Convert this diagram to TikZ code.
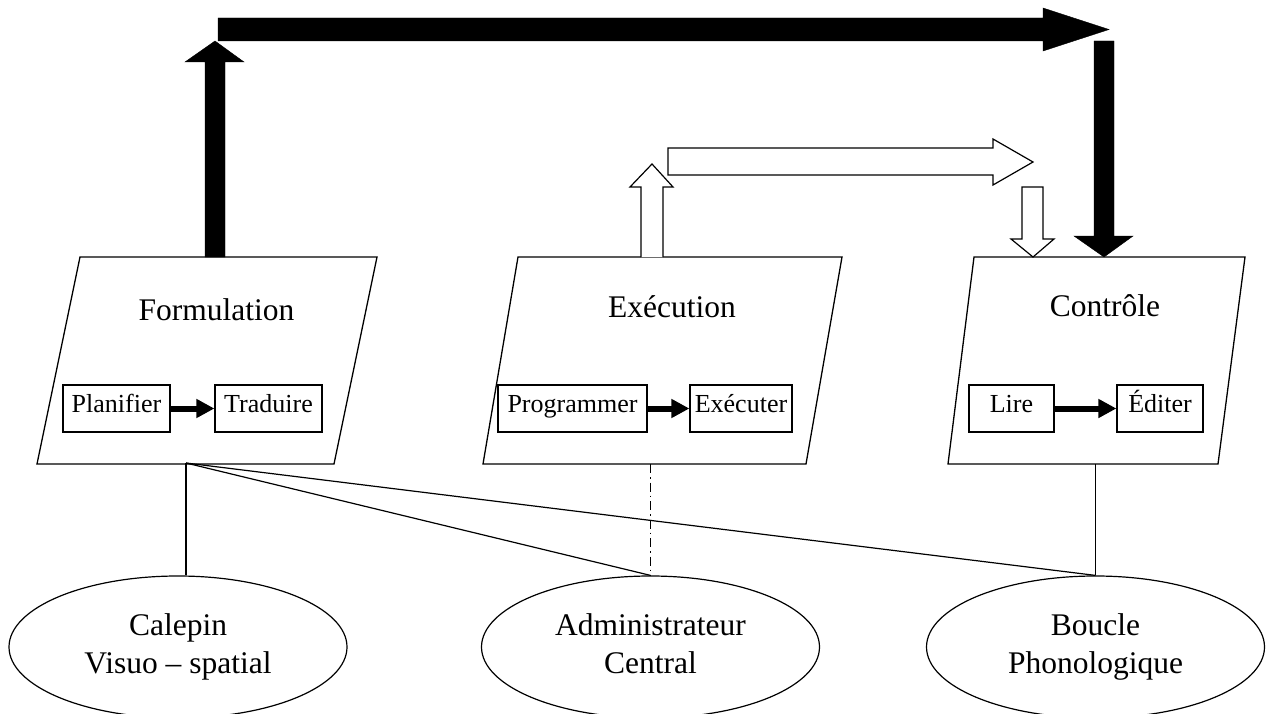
\documentclass[tikz,border=0pt]{standalone}
\usepackage{fontspec}
\setmainfont{Liberation Serif}
\usetikzlibrary{arrows.meta,shapes.geometric,calc}
\begin{document}
\begin{tikzpicture}[x=1pt,y=-1pt,
  outline/.style={draw=black,line width=1.3pt,line join=miter},
  blk/.style={fill=black,draw=black,line width=0.4pt,line join=miter},
  opn/.style={fill=white,draw=black,line width=1.2pt,line join=miter},
  proc/.style={draw=black,line width=1.2pt,rectangle,minimum height=47pt,inner sep=0pt,
    font=\fontsize{26}{30}\selectfont,text height=18pt,text depth=11pt},
  ttl/.style={font=\fontsize{31.5}{38}\selectfont,anchor=base,inner sep=0pt},
  mem/.style={ellipse,draw=black,line width=1.2pt,minimum width=338pt,minimum height=142pt,
    inner sep=0pt,font=\fontsize{31.5}{38}\selectfont},
  link/.style={draw=black,line width=1.2pt},
  sarrow/.style={line width=6pt,-{Triangle[length=18pt,width=18pt]}}
]
\useasboundingbox (0,0) rectangle (1266,714);
\fill[white] (0,0) rectangle (1266,714);

% parallelograms
\draw[outline] (80,257) -- (377,257) -- (334,464) -- (37,464) -- cycle;
\draw[outline] (518,257) -- (842,257) -- (806,464) -- (483,464) -- cycle;
\draw[outline] (974,257) -- (1245,257) -- (1218,464) -- (948,464) -- cycle;

\coordinate (fb) at (186,463);
\coordinate (eb) at (652,464);
\coordinate (cb) at (1096,464);

% titles
\node[ttl] (formT) at (216.5,320) {Formulation};
\node[ttl] (execT) at (672,317) {Exécution};
\node[ttl] (ctrlT) at (1105,316) {Contrôle};

% process boxes
\node[proc,minimum width=107pt] (plan) at (116.5,408.5) {Planifier};
\node[proc,minimum width=107pt] (trad) at (268.5,408.5) {Traduire};
\node[proc,minimum width=149pt] (prog) at (572.5,408.5) {Programmer};
\node[proc,minimum width=102pt] (exe)  at (741,408.5) {Exécuter};
\node[proc,minimum width=85pt]  (lire) at (1011.5,408.5) {Lire};
\node[proc,minimum width=86pt]  (edit) at (1160,408.5) {Éditer};

\draw[sarrow] (plan.east) -- (trad.west);
\draw[sarrow] (prog.east) -- (exe.west);
\draw[sarrow] (lire.east) -- (edit.west);

% black block arrows
\filldraw[blk] (205,257) -- (205,62) -- (185,62) -- (215,41) -- (244,62) -- (225,62) -- (225,257) -- cycle;
\filldraw[blk] (218,18) -- (1043,18) -- (1043,8) -- (1109,29.5) -- (1043,51) -- (1043,41) -- (218,41) -- cycle;
\filldraw[blk] (1094,41) -- (1094,236) -- (1074,236) -- (1104,257) -- (1133,236) -- (1114,236) -- (1114,41) -- cycle;

% open block arrows
\draw[opn] (641,257) -- (641,187) -- (630,187) -- (652,164) -- (673,187) -- (663,187) -- (663,257);
\draw[opn] (668,148) -- (993,148) -- (993,139) -- (1033,162) -- (993,185) -- (993,175) -- (668,175) -- cycle;
\draw[opn] (1022,187) -- (1043,187) -- (1043,239) -- (1054,239) -- (1033,257) -- (1011,239) -- (1022,239) -- cycle;

% memory components
\node[mem] (cal) at (178,647) {\begin{tabular}{@{}c@{}}Calepin\\Visuo – spatial\end{tabular}};
\node[mem] (adm) at (650.5,647) {\begin{tabular}{@{}c@{}}Administrateur\\Central\end{tabular}};
\node[mem] (bou) at (1095.5,647) {\begin{tabular}{@{}c@{}}Boucle\\Phonologique\end{tabular}};

% links
\draw[link] (fb) -- (fb |- cal.north);
\draw[link] (fb) -- (adm.north);
\draw[link] (fb) -- (bou.north);
\draw[link] (bou.north |- cb) -- (bou.north);
\draw[link,dash pattern=on 9pt off 4pt on 1.5pt off 4pt] (adm.north |- eb) -- (adm.north);
\end{tikzpicture}
\end{document}
